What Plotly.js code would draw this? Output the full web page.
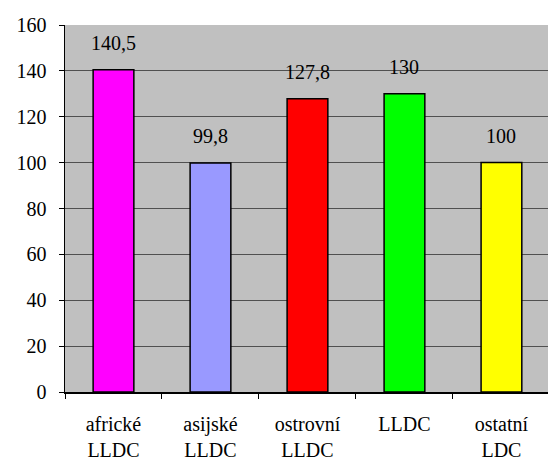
<!DOCTYPE html>
<html><head><meta charset="utf-8">
<script src="https://cdn.plot.ly/plotly-3.0.1.min.js"></script>
</head><body style="margin:0;background:#fff"><div id="chart" style="position:absolute;left:0;top:0;width:548px;height:462px;"></div>
<script>
var categories = ["africké<br>LLDC", "asijské<br>LLDC", "ostrovní<br>LLDC", "LLDC", "ostatní<br>LDC"];
var values = [140.5, 99.8, 127.8, 130, 100];
var valueLabels = ["140,5", "99,8", "127,8", "130", "100"];
var colors = ["#FF00FF", "#9999FF", "#FF0000", "#00FF00", "#FFFF00"];
var yTicks = [0, 20, 40, 60, 80, 100, 120, 140, 160];

var trace = {
  type: "bar",
  x: categories,
  y: values,
  width: 0.42,
  marker: {color: colors, line: {color: "#000", width: 1.5}},
  hoverinfo: "none"
};

var annotations = categories.map(function (c, i) {
  return {
    x: c, y: values[i], xref: "x", yref: "y",
    text: valueLabels[i], showarrow: false,
    yanchor: "bottom", yshift: 14
  };
});

var layout = {
  width: 548, height: 462,
  margin: {l: 65, r: 0, t: 25, b: 70},
  paper_bgcolor: "#fff",
  plot_bgcolor: "#C0C0C0",
  showlegend: false,
  font: {family: "Liberation Serif", size: 20, color: "#000"},
  xaxis: {
    type: "category",
    range: [-0.5, 4.48],
    showline: true, linecolor: "#000", linewidth: 1.5,
    ticks: "outside", ticklen: 5, tickcolor: "#000", tickson: "boundaries",
    showgrid: false,
    ticklabelstandoff: 13
  },
  yaxis: {
    range: [0, 160],
    tickvals: yTicks,
    ticktext: yTicks.map(String),
    showline: true, linecolor: "#000", linewidth: 1.5,
    ticks: "outside", ticklen: 5, tickcolor: "#000",
    showgrid: true, gridcolor: "#505050", gridwidth: 1.2,
    zeroline: false,
    ticklabelstandoff: 8
  },
  annotations: annotations
};

Plotly.newPlot("chart", [trace], layout, {staticPlot: true});
</script></body></html>
